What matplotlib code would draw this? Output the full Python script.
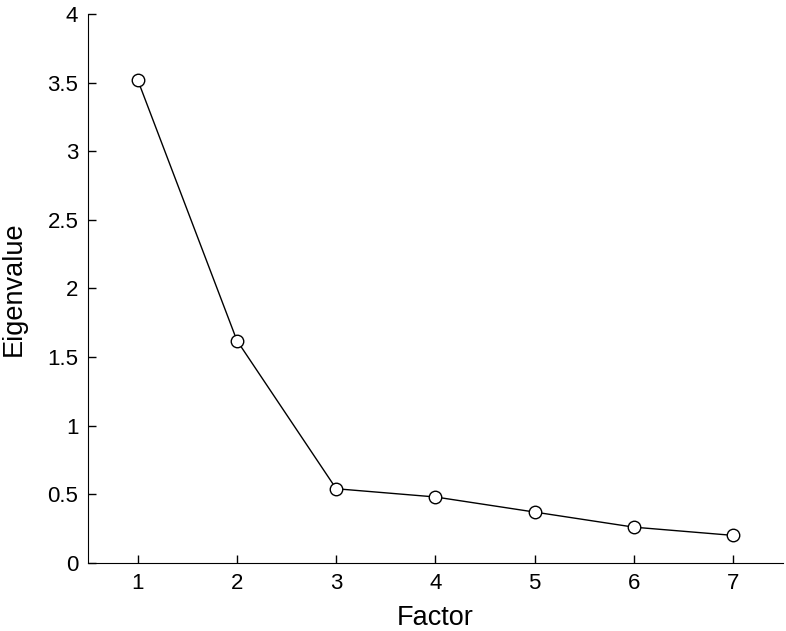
import matplotlib
matplotlib.use('Agg')
import matplotlib.pyplot as plt

# Scree plot data
factors = [1, 2, 3, 4, 5, 6, 7]
eigenvalues = [3.52, 1.62, 0.54, 0.48, 0.37, 0.26, 0.20]

plt.rcParams['font.family'] = ['Liberation Sans', 'DejaVu Sans']

fig = plt.figure(figsize=(7.86, 6.31), dpi=100)
ax = fig.add_axes([0.112, 0.108, 0.884, 0.87])

ax.plot(factors, eigenvalues, color='black', linewidth=1.0,
        marker='o', markersize=9, markerfacecolor='white',
        markeredgecolor='black', markeredgewidth=1.0)

ax.set_xlim(0.5, 7.5)
ax.set_ylim(0, 4)
ax.set_xticks(factors)
ax.set_yticks([0, 0.5, 1, 1.5, 2, 2.5, 3, 3.5, 4])
ax.set_yticklabels(['0', '0.5', '1', '1.5', '2', '2.5', '3', '3.5', '4'])

ax.spines['top'].set_visible(False)
ax.spines['right'].set_visible(False)
ax.tick_params(direction='in', length=6, width=1, labelsize=16, pad=7)

ax.set_xlabel('Factor', fontsize=19.5, labelpad=8)
ax.set_ylabel('Eigenvalue', fontsize=19.5, labelpad=15)

plt.savefig('out.png', dpi=100)
